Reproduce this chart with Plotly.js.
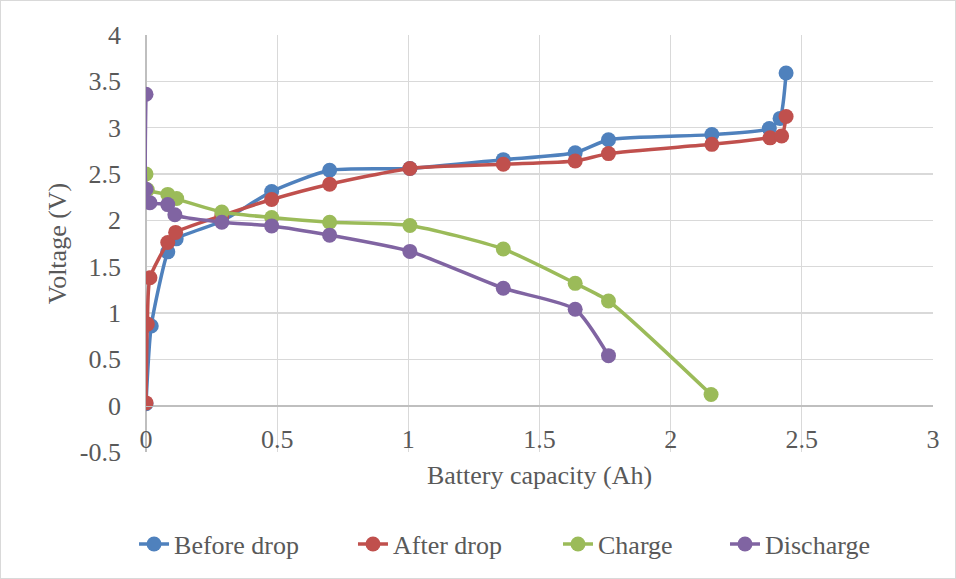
<!DOCTYPE html>
<html><head><meta charset="utf-8">
<script src="https://cdn.plot.ly/plotly-3.0.1.min.js"></script>
<style>html,body{margin:0;padding:0;background:#fff}#c{width:954px;height:577px;border:1px solid #d9d9d9}</style>
</head><body><div id="c"></div>
<script>
const beforeX = [0, 0.02, 0.083, 0.115, 0.289, 0.479, 0.70, 1.006, 1.362, 1.636, 1.763, 2.157, 2.376, 2.417, 2.44];
const beforeY = [0.02, 0.86, 1.66, 1.80, 1.99, 2.31, 2.54, 2.56, 2.655, 2.73, 2.87, 2.925, 2.99, 3.10, 3.59];
const afterX = [0, 0.005, 0.015, 0.083, 0.113, 0.289, 0.479, 0.70, 1.006, 1.362, 1.636, 1.763, 2.157, 2.379, 2.423, 2.44];
const afterY = [0.03, 0.88, 1.38, 1.76, 1.87, 2.05, 2.225, 2.39, 2.56, 2.605, 2.64, 2.72, 2.82, 2.89, 2.91, 3.12];
const chargeX = [0, 0.005, 0.083, 0.117, 0.289, 0.479, 0.70, 1.006, 1.362, 1.636, 1.763, 2.154];
const chargeY = [2.50, 2.33, 2.28, 2.235, 2.09, 2.03, 1.98, 1.945, 1.69, 1.32, 1.13, 0.12];
const dischargeX = [0, 0, 0.015, 0.083, 0.11, 0.289, 0.479, 0.70, 1.006, 1.362, 1.636, 1.763];
const dischargeY = [3.36, 2.335, 2.19, 2.17, 2.06, 1.98, 1.94, 1.84, 1.665, 1.267, 1.04, 0.54];
const xTicks = [0, 0.5, 1, 1.5, 2, 2.5, 3];
const xTickText = ['0', '0.5', '1', '1.5', '2', '2.5', '3'];
const yTicks = [-0.5, 0, 0.5, 1, 1.5, 2, 2.5, 3, 3.5, 4];
const yTickText = ['-0.5', '0', '0.5', '1', '1.5', '2', '2.5', '3', '3.5', '4'];
const names = ['Before drop', 'After drop', 'Charge', 'Discharge'];
const colors = ['#4f81bd', '#c0504d', '#9bbb59', '#8064a2'];
const xs = [beforeX, afterX, chargeX, dischargeX];
const ys = [beforeY, afterY, chargeY, dischargeY];
const legendIds = ['legend', 'legend2', 'legend3', 'legend4'];
const legendX = [-0.0152, 0.263, 0.5235, 0.7357];
const traces = names.map((n, i) => ({
  x: xs[i], y: ys[i], name: n, type: 'scatter', mode: 'lines+markers', legend: legendIds[i],
  line: {color: colors[i], width: 3.5, shape: 'spline', smoothing: 0.6},
  marker: {color: colors[i], size: 15}
}));
const font = {family: 'Liberation Serif', color: '#595959', size: 26};
const layout = {
  width: 954, height: 577,
  margin: {l: 145, r: 22, t: 34, b: 125},
  paper_bgcolor: '#fff', plot_bgcolor: '#fff',
  font: font,
  showlegend: true,
  xaxis: {range: [0, 3], tickvals: xTicks, ticktext: xTickText, showgrid: true, gridcolor: '#d9d9d9', gridwidth: 1.3,
    zeroline: true, zerolinecolor: '#bfbfbf', zerolinewidth: 1.3, showline: true, linecolor: '#bfbfbf', linewidth: 1.3,
    anchor: 'free', position: 0.5 / 4.5,
    ticks: '', tickfont: font, ticklabelstandoff: 10, fixedrange: true,
    title: {text: 'Battery capacity (Ah)', font: font, standoff: 12}},
  yaxis: {range: [-0.5, 4], tickvals: yTicks, ticktext: yTickText, showgrid: true, gridcolor: '#d9d9d9', gridwidth: 1.3,
    zeroline: true, zerolinecolor: '#bfbfbf', zerolinewidth: 1.3, showline: false,
    ticks: '', tickfont: font, ticklabelstandoff: 24, fixedrange: true,
    title: {text: 'Voltage (V)', font: font, standoff: 5}}
};
legendIds.forEach((id, i) => {
  layout[id] = {orientation: 'h', x: legendX[i], xanchor: 'left', y: -0.218, yanchor: 'middle', font: font, itemwidth: 30, bgcolor: 'rgba(0,0,0,0)'};
});
Plotly.newPlot('c', traces, layout, {displayModeBar: false, staticPlot: true});
</script></body></html>
